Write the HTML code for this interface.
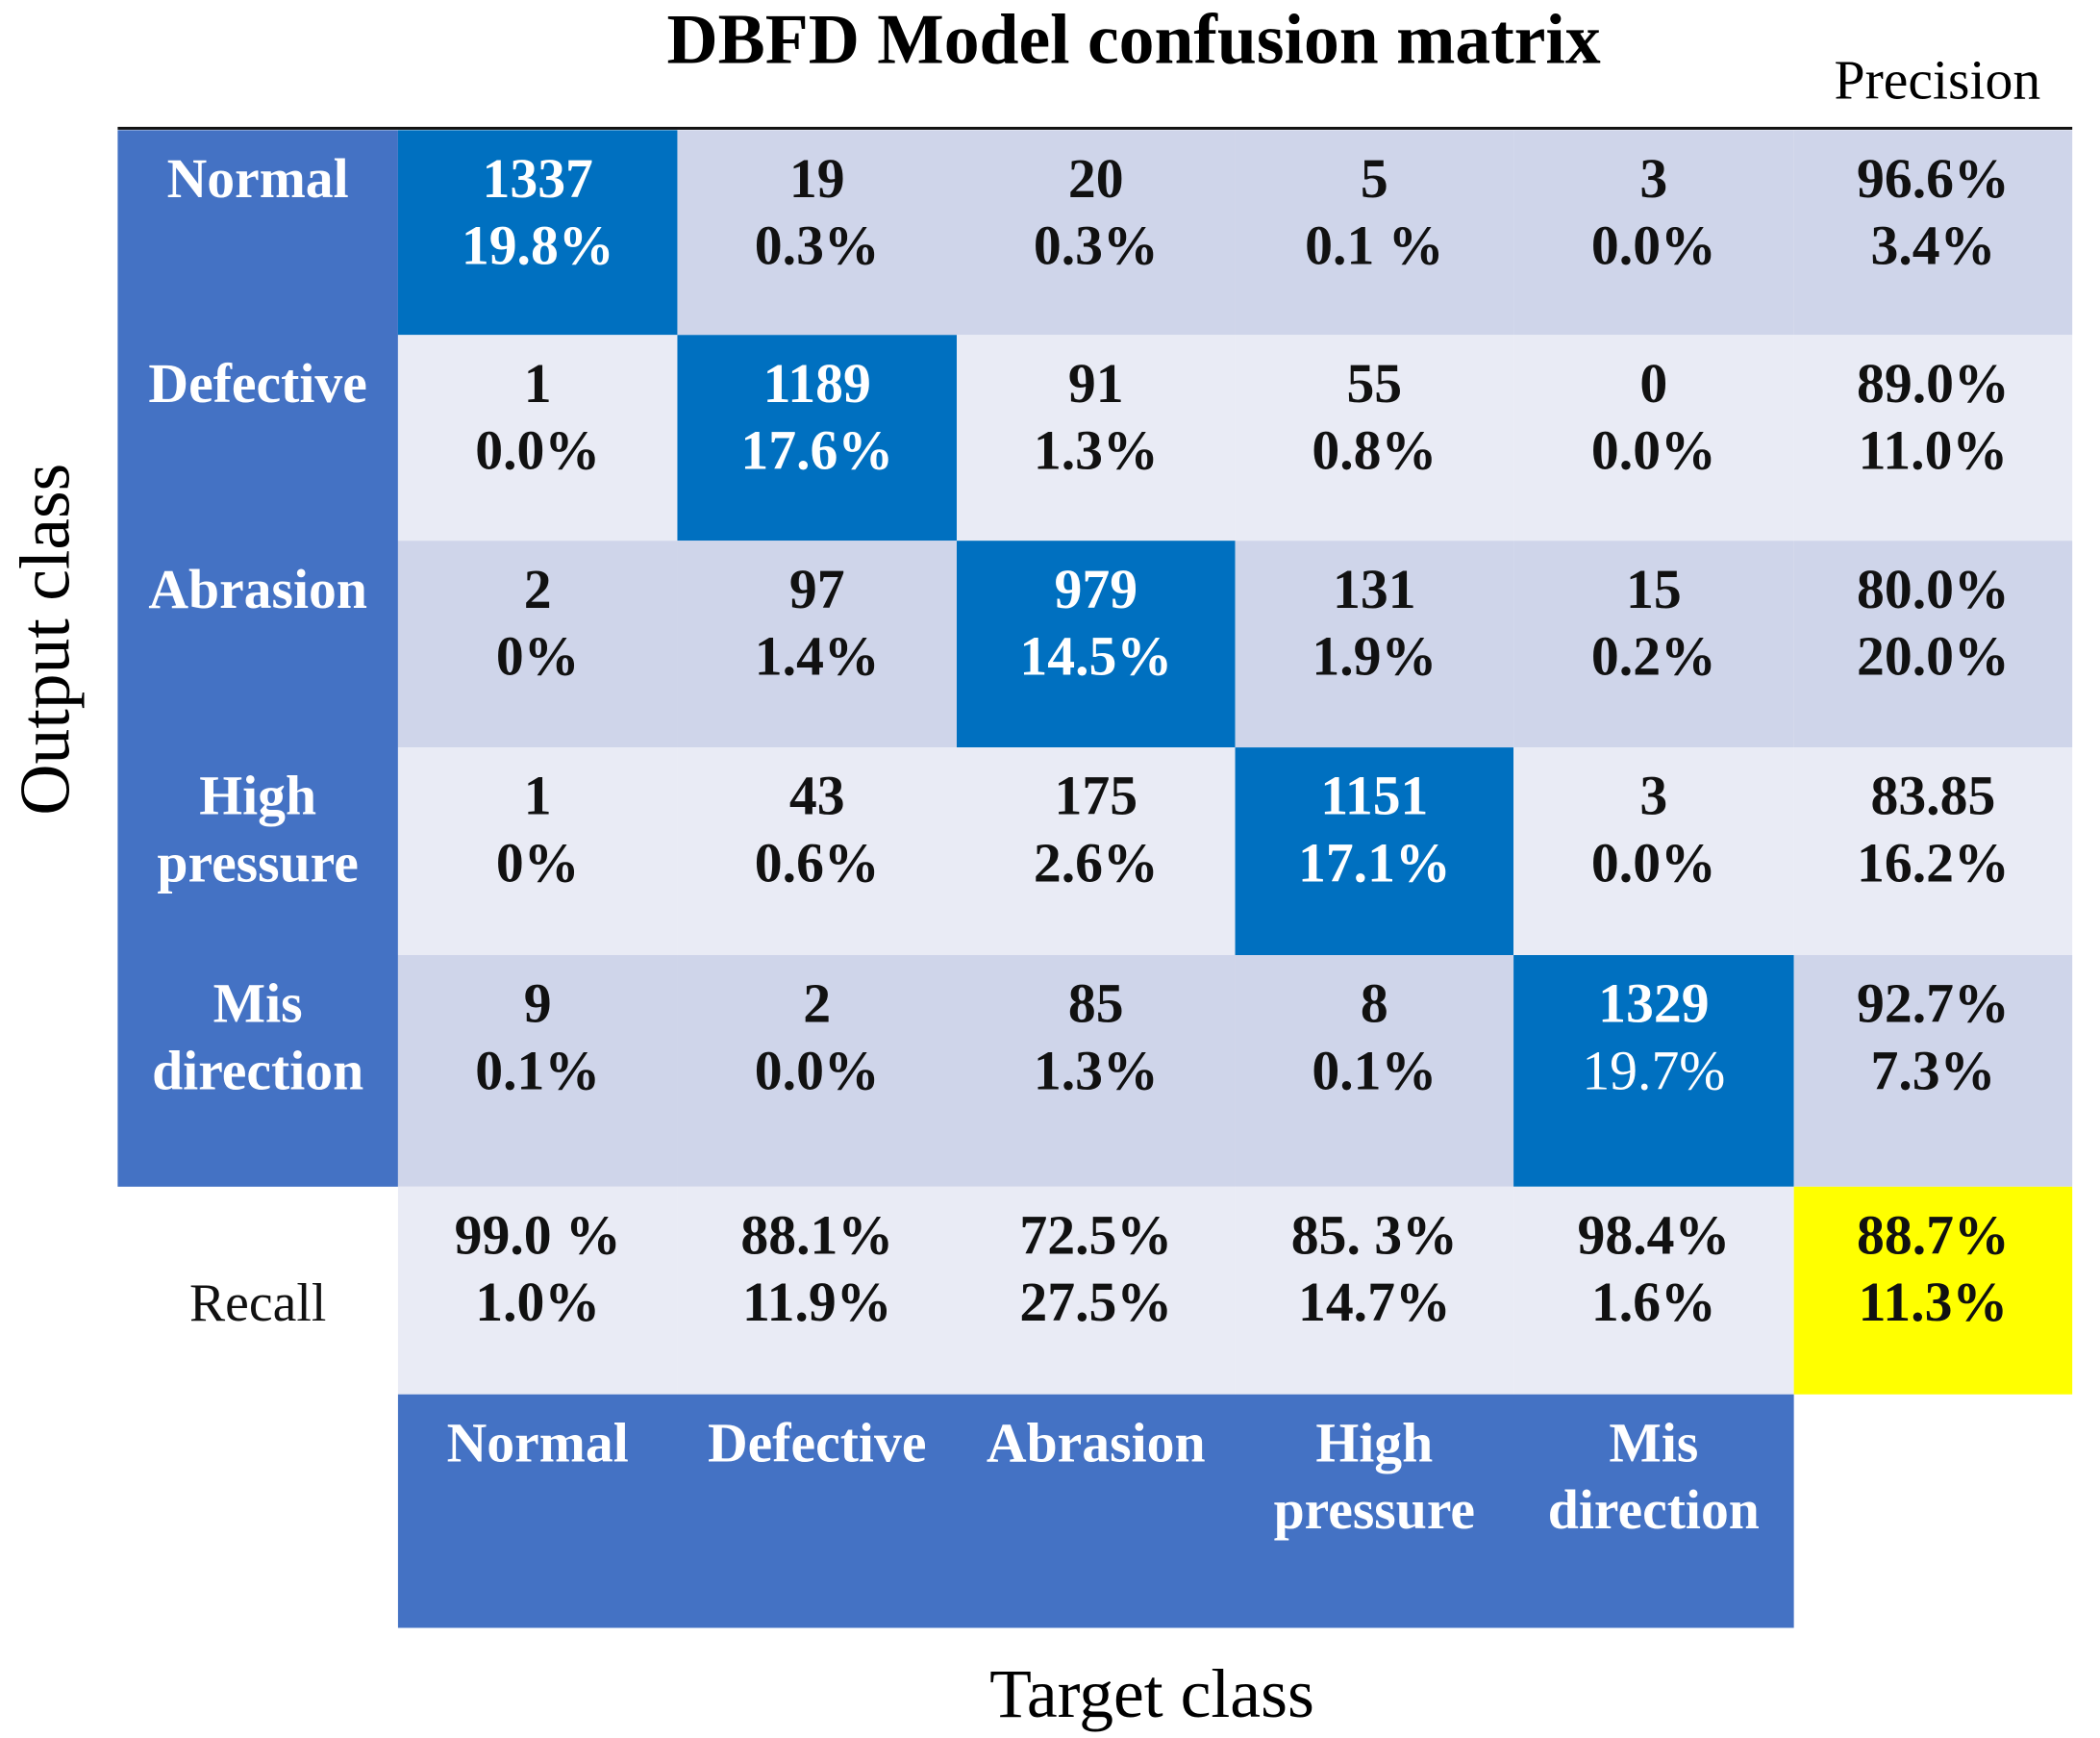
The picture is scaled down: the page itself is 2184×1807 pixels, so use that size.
<!DOCTYPE html>
<html><head><meta charset="utf-8">
<style>
html,body{margin:0;padding:0;background:#fff;}
svg{display:block;font-family:"Liberation Serif",serif;}
</style></head>
<body>
<svg id="chart" width="2184" height="1807" viewBox="0 0 2184 1807" xmlns="http://www.w3.org/2000/svg">
<g transform="scale(0.995)">
<text x="1185" y="66" text-anchor="middle" font-size="74" font-weight="bold">DBFD Model confusion matrix</text>
<text x="2025" y="103" text-anchor="middle" font-size="58">Precision</text>
<text transform="translate(72,668) rotate(-90)" text-anchor="middle" font-size="74">Output class</text>
<text x="1204" y="1794" text-anchor="middle" font-size="72">Target class</text>
<g id="cells"></g>
<line x1="123" y1="134" x2="2166" y2="134" stroke="#111" stroke-width="3"/>
</g>
</svg>
<script>
const classes = ["Normal","Defective","Abrasion","High pressure","Mis direction"];
const counts = [
  [1337,19,20,5,3],
  [1,1189,91,55,0],
  [2,97,979,131,15],
  [1,43,175,1151,3],
  [9,2,85,8,1329]
];
const percents = [
  ["19.8%","0.3%","0.3%","0.1 %","0.0%"],
  ["0.0%","17.6%","1.3%","0.8%","0.0%"],
  ["0%","1.4%","14.5%","1.9%","0.2%"],
  ["0%","0.6%","2.6%","17.1%","0.0%"],
  ["0.1%","0.0%","1.3%","0.1%","19.7%"]
];
const precision = [["96.6%","3.4%"],["89.0%","11.0%"],["80.0%","20.0%"],["83.85","16.2%"],["92.7%","7.3%"]];
const recall = [["99.0 %","1.0%"],["88.1%","11.9%"],["72.5%","27.5%"],["85. 3%","14.7%"],["98.4%","1.6%"]];
const overall = ["88.7%","11.3%"];

const colX = [123,416,708,1000,1291,1582,1875,2166];
const rowY = [136,350,565,781,998,1240,1457,1701];
const FS = 58;
const g = document.getElementById('cells');
const NS = "http://www.w3.org/2000/svg";
function rect(x,y,w,h,fill){const r=document.createElementNS(NS,'rect');r.setAttribute('x',x);r.setAttribute('y',y);r.setAttribute('width',w);r.setAttribute('height',h);r.setAttribute('fill',fill);g.appendChild(r);return r;}
function text(x,y,s,fill,bold,size){const t=document.createElementNS(NS,'text');t.setAttribute('x',x);t.setAttribute('y',y);t.setAttribute('text-anchor','middle');t.setAttribute('font-size',size||FS);if(bold)t.setAttribute('font-weight','bold');t.setAttribute('fill',fill);t.textContent=s;g.appendChild(t);return t;}
const DARK="#CFD5EA", LIGHT="#E9EBF5", DIAG="#0070C0", BLUE="#4472C4";
const rl = rect(colX[0],rowY[0],colX[1]-colX[0],rowY[5]-rowY[0],BLUE);


for(let i=0;i<5;i++){
  const y0=rowY[i], h=rowY[i+1]-rowY[i];
  const lines = classes[i].split(' ');
  lines.forEach((s,k)=>{const t=text((colX[0]+colX[1])/2,y0+70+k*70,s,"#fff",true);
    
    });
  for(let j=0;j<6;j++){
    const x0=colX[j+1], w=colX[j+2]-colX[j+1];
    const diag = i===j;
    const r=rect(x0,y0,w,h,diag?DIAG:(i%2===0?DARK:LIGHT));
    
    
    const v1 = j<5?String(counts[i][j]):precision[i][0];
    const v2 = j<5?percents[i][j]:precision[i][1];
    const c = diag?"#fff":"#111";
    const t1=text(x0+w/2,y0+70,v1,c,true);
    
    
    const t2=text(x0+w/2,y0+140,v2,c,!(i===4&&j===4));
    
    
  }
}
for(let j=0;j<6;j++){
  const x0=colX[j+1], w=colX[j+2]-colX[j+1], y0=rowY[5], h=rowY[6]-rowY[5];
  const r=rect(x0,y0,w,h,j<5?LIGHT:"#FFFF00");
  
  
  const v=j<5?recall[j]:overall;
  const a=text(x0+w/2,y0+70,v[0],"#111",true);
  
  
  const b=text(x0+w/2,y0+140,v[1],"#111",true);
  
  
}
const rlab=text((colX[0]+colX[1])/2,rowY[5]+140,"Recall","#111",false,56);


const cb=rect(colX[1],rowY[6],colX[6]-colX[1],rowY[7]-rowY[6],BLUE);


for(let j=0;j<5;j++){
  const cx=(colX[j+1]+colX[j+2])/2;
  classes[j].split(' ').forEach((s,k)=>{const t=text(cx,rowY[6]+70+k*70,s,"#fff",true);
    
    });
}
</script>
</body></html>
